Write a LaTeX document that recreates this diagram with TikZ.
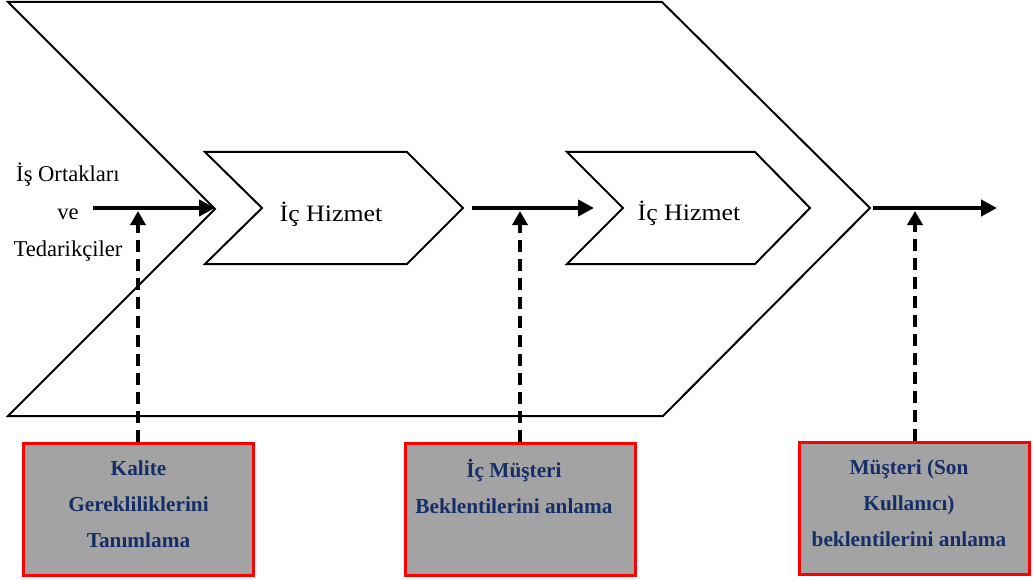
\documentclass[tikz,border=0pt]{standalone}
\usepackage{fontspec}
\setmainfont{Liberation Serif}
\usepackage{graphicx}
\usetikzlibrary{arrows.meta}
\definecolor{boxgray}{RGB}{163,163,163}
\definecolor{navytext}{RGB}{22,46,104}
\tikzset{
  chevron/.style={draw=black, line width=2pt, line join=miter, fill=white},
  flow/.style={line width=4.5pt, -{Triangle[length=16pt,width=16pt]}},
  need/.style={line width=4pt, dash pattern=on 12pt off 7pt, -{Triangle[length=14pt,width=15pt]}},
  reqbox/.style={draw=red, line width=3pt, fill=boxgray, minimum width=230pt, minimum height=132pt, inner sep=0pt},
  reqtext/.style={font=\fontsize{21.3}{36}\selectfont\bfseries, text=navytext, align=center, inner sep=0pt},
  sidetext/.style={font=\fontsize{22.6}{37.5}\selectfont, align=center, inner sep=0pt},
  stagetext/.style={font=\fontsize{23.5}{26}\selectfont, inner sep=0pt}
}
\newcommand{\stagename}{\scalebox{1.1}[1]{İç Hizmet}}
\begin{document}
\begin{tikzpicture}[x=1pt, y=-1pt]
  \useasboundingbox (0,0) rectangle (1033,580);

  % outer value chain chevron
  \draw[chevron] (8,2) -- (662,2) -- (870,208) -- (663,416) -- (8,416) -- (215,209) -- cycle;

  % internal service chevrons
  \draw[chevron] (205,152) -- (407,152) -- (463,208) -- (407,264) -- (205,264) -- (262,208) -- cycle;
  \draw[chevron] (567,152) -- (755,152) -- (810,208) -- (755,264) -- (567,264) -- (623,208) -- cycle;

  \node[stagetext] (s1) at (331,214) {\stagename};
  \node[stagetext] (s2) at (689,213) {\stagename};

  \node[sidetext] (partners) at (68,212.5) {İş Ortakları\\ve\\Tedarikçiler};

  % flow connectors
  \coordinate (f1a) at (93,208);
  \coordinate (f1b) at (215,208);
  \coordinate (f2a) at (472,208);
  \coordinate (f2b) at (594,208);
  \coordinate (f3a) at (873,208);
  \coordinate (f3b) at (997,208);
  \draw[flow] (f1a) -- (f1b);
  \draw[flow] (f2a) -- (f2b);
  \draw[flow] (f3a) -- (f3b);

  % requirement boxes
  \node[reqbox] (b1) at (138.5,509.5) {};
  \node[reqbox] (b2) at (520,509.5) {};
  \node[reqbox] (b3) at (914,508) {};

  \node[reqtext] (t1) at (138.5,504) {Kalite\\Gerekliliklerini\\Tanımlama};
  \node[reqtext] (t2) at (514,486.5) {İç Müşteri\\Beklentilerini anlama};
  \node[reqtext] (t3) at (909,503) {Müşteri (Son\\Kullanıcı)\\beklentilerini anlama};

  % feedback connectors
  \coordinate (n1) at (138,211);
  \coordinate (n2) at (520,211);
  \coordinate (n3) at (915,211);
  \draw[need] (b1.north -| n1) -- (n1);
  \draw[need] (b2.north -| n2) -- (n2);
  \draw[need] (b3.north -| n3) -- (n3);
\end{tikzpicture}
\end{document}
